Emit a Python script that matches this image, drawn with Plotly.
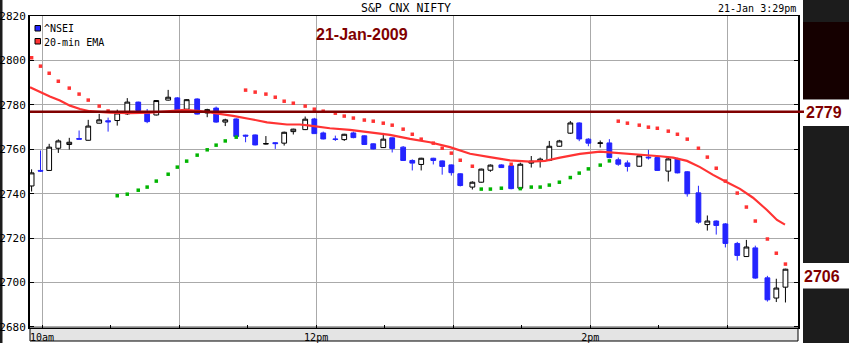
import plotly.graph_objects as go

# ---------------- data ----------------
# candle times: minutes after midnight, 21-Jan-2009
candle_min = [595.4, 599.3, 603.1, 607.1, 611.9, 616.2, 620.2, 625.0, 628.9, 632.9,
              637.3, 642.1, 646.0, 650.0, 655.2, 659.2, 663.3, 667.9, 672.3, 676.2,
              680.2, 685.0, 689.1, 693.3, 698.0, 702.1, 706.0, 710.0, 715.2, 719.2,
              723.1, 728.4, 732.3, 736.3, 741.1, 745.0, 749.4, 753.3, 758.1, 762.1,
              766.0, 771.3, 775.2, 779.2, 783.1, 788.4, 792.3, 796.3, 801.1, 805.4,
              809.4, 814.2, 818.1, 822.1, 826.5, 831.3, 835.2, 839.2, 844.4, 848.4,
              852.3, 856.3, 861.5, 865.5, 869.4, 874.2, 878.2, 882.5, 887.4, 891.3,
              895.2, 899.2, 904.4, 908.4, 912.3, 917.6, 921.5, 925.5]
open_ = [2743.5, 2750.5, 2750.5, 2760.5, 2762.2, 2764.9, 2764.1, 2771.8, 2772.9, 2773.0,
         2776.0, 2781.3, 2776.8, 2775.5, 2782.2, 2783.2, 2778.1, 2782.7, 2776.4, 2778.6,
         2772.3, 2773.7, 2766.4, 2766.5, 2762.4, 2763.0, 2762.8, 2768.0, 2768.9, 2773.7,
         2767.4, 2764.7, 2764.4, 2767.4, 2766.1, 2762.5, 2760.8, 2765.2, 2761.0, 2755.0,
         2753.2, 2756.0, 2754.8, 2753.0, 2749.0, 2743.0, 2745.2, 2750.6, 2753.0, 2752.6,
         2742.5, 2753.8, 2754.7, 2755.0, 2761.4, 2767.3, 2771.9, 2764.6, 2762.7, 2762.9,
         2755.3, 2753.9, 2752.4, 2756.5, 2756.3, 2750.2, 2755.7, 2749.9, 2740.4, 2726.1,
         2727.7, 2726.4, 2717.6, 2711.7, 2715.6, 2702.1, 2693.0, 2697.9]
high = [2751.0, 2759.5, 2762.5, 2764.5, 2765.2, 2768.5, 2773.3, 2776.0, 2774.3, 2777.9,
        2783.1, 2781.5, 2778.2, 2782.2, 2786.8, 2783.6, 2782.6, 2783.0, 2778.3, 2779.3,
        2773.8, 2774.0, 2766.6, 2766.7, 2766.0, 2763.2, 2768.0, 2769.3, 2774.8, 2774.2,
        2768.0, 2766.2, 2767.0, 2768.0, 2766.3, 2762.7, 2767.4, 2765.4, 2761.5, 2755.5,
        2756.2, 2756.2, 2755.0, 2753.2, 2749.2, 2745.6, 2751.3, 2753.2, 2753.3, 2752.8,
        2754.0, 2757.0, 2756.3, 2763.8, 2764.3, 2772.8, 2772.2, 2765.0, 2764.0, 2764.6,
        2756.3, 2755.0, 2757.8, 2759.8, 2756.7, 2756.5, 2756.2, 2750.2, 2743.6, 2730.2,
        2728.0, 2726.8, 2718.3, 2719.2, 2716.6, 2703.0, 2701.7, 2706.2]
low = [2741.0, 2749.8, 2750.3, 2758.4, 2759.9, 2764.5, 2764.0, 2771.7, 2768.0, 2770.7,
       2775.5, 2777.3, 2771.8, 2775.3, 2782.0, 2777.6, 2777.5, 2775.7, 2774.5, 2772.0,
       2770.5, 2765.5, 2763.2, 2761.8, 2762.2, 2760.2, 2761.7, 2766.7, 2768.7, 2767.0,
       2764.5, 2763.8, 2763.8, 2765.0, 2762.0, 2760.0, 2760.6, 2758.6, 2754.8, 2750.5,
       2750.5, 2753.2, 2748.6, 2748.2, 2743.3, 2741.9, 2745.0, 2749.9, 2751.6, 2742.0,
       2742.3, 2751.8, 2751.8, 2754.7, 2761.2, 2767.0, 2763.7, 2761.4, 2760.8, 2756.0,
       2752.6, 2750.0, 2752.2, 2755.4, 2750.3, 2745.5, 2749.2, 2738.7, 2726.5, 2723.4,
       2721.6, 2715.8, 2709.9, 2711.5, 2701.7, 2691.4, 2691.2, 2691.0]
close = [2749.4, 2750.2, 2761.0, 2763.8, 2763.2, 2764.6, 2770.5, 2773.3, 2772.4, 2776.4,
         2781.3, 2777.5, 2772.5, 2782.0, 2783.5, 2777.8, 2782.4, 2775.9, 2777.9, 2772.3,
         2773.3, 2765.8, 2766.0, 2762.0, 2762.6, 2762.6, 2767.7, 2769.1, 2773.6, 2767.1,
         2764.7, 2764.5, 2766.8, 2765.3, 2762.2, 2760.2, 2764.6, 2760.4, 2755.0, 2753.8,
         2756.0, 2755.0, 2752.3, 2749.5, 2743.7, 2745.2, 2751.1, 2752.9, 2751.8, 2742.3,
         2753.3, 2754.7, 2755.6, 2761.4, 2763.8, 2771.9, 2764.7, 2762.8, 2762.9, 2756.3,
         2753.3, 2752.3, 2757.1, 2756.2, 2750.5, 2755.7, 2749.4, 2740.0, 2727.2, 2727.7,
         2725.7, 2717.6, 2712.2, 2716.0, 2702.0, 2692.2, 2697.5, 2706.0]

# parabolic SAR, one value per candle
sar = [2801.3, 2797.5, 2794.3, 2790.7, 2787.6, 2784.9, 2782.2, 2779.5, 2777.3, 2739.1,
       2739.8, 2741.6, 2743.0, 2745.7, 2748.8, 2752.0, 2754.7, 2757.4, 2759.8, 2761.9,
       2763.8, 2765.5, 2786.7, 2785.8, 2784.9, 2783.5, 2781.7, 2780.8, 2779.5, 2778.1,
       2777.2, 2776.3, 2775.0, 2774.1, 2773.2, 2772.7, 2771.8, 2770.9, 2769.1, 2766.8,
       2764.6, 2762.8, 2760.5, 2758.3, 2755.1, 2752.4, 2742.1, 2742.1, 2742.5, 2753.3,
       2742.3, 2743.0, 2743.0, 2743.9, 2745.2, 2747.3, 2749.3, 2751.2, 2752.9, 2754.8,
       2772.7, 2771.8, 2770.9, 2770.0, 2769.5, 2768.2, 2766.8, 2764.6, 2760.5, 2756.5,
       2751.5, 2745.7, 2740.3, 2734.0, 2727.7, 2719.6, 2713.2, 2708.3]

# 20-min EMA
ema_min = [594.7, 599.0, 603.4, 607.8, 612.2, 616.6, 620.9, 629.7, 638.5, 647.2,
           656.0, 662.5, 669.1, 676.6, 683.6, 691.0, 698.5, 707.2, 712.9, 717.3,
           726.0, 734.8, 743.6, 752.3, 761.1, 769.8, 778.6, 787.4, 796.1, 804.9,
           813.6, 820.2, 826.8, 835.5, 844.3, 853.1, 861.8, 870.6, 876.3, 882.4,
           888.1, 893.8, 899.9, 905.6, 911.3, 917.4, 921.8, 925.3]
ema = [2788.0, 2785.8, 2783.8, 2782.0, 2779.7, 2778.2, 2777.2, 2776.5, 2776.3, 2776.5,
       2777.2, 2777.8, 2777.3, 2776.2, 2775.1, 2773.7, 2772.2, 2771.2, 2771.2, 2770.7,
       2769.5, 2768.8, 2767.7, 2766.5, 2764.7, 2763.2, 2761.0, 2758.0, 2756.5, 2755.0,
       2754.5, 2754.8, 2756.3, 2758.0, 2759.0, 2758.4, 2757.5, 2756.9, 2756.3, 2754.8,
       2752.0, 2748.5, 2745.2, 2742.2, 2738.2, 2732.7, 2728.2, 2726.1]

ref_line_level = 2777
ref_label = "2779"
last_label = "2706"

y_ticks = [2680, 2700, 2720, 2740, 2760, 2780, 2800, 2820]
x_tick_min = [600, 660, 720, 780, 840, 900]
x_tick_text = ["10am", "", "12pm", "", "2pm", ""]
x_minor_min = [630, 690, 750, 810, 870]

# ---------------- style ----------------
W, H = 849, 343
L, R, T, B = 30, 51, 16, 15
PW, PH = W - L - R, H - T - B
BLUE = "#2424ff"
RED = "#ff3333"
GREEN = "#00b400"
MAROON = "#800000"
MONO = "DejaVu Sans Mono"


def px_x(x):
    return (x - L) / PW


def px_y(y):
    return (H - B - y) / PH


fig = go.Figure()

fig.add_trace(go.Candlestick(
    x=candle_min, open=open_, high=high, low=low, close=close,
    increasing=dict(line=dict(color="black", width=1), fillcolor="white"),
    decreasing=dict(line=dict(color=BLUE, width=1), fillcolor=BLUE),
    whiskerwidth=0, hoverinfo="skip", name="^NSEI",
))

fig.add_trace(go.Scatter(
    x=ema_min, y=ema, mode="lines", line=dict(color=RED, width=2.2),
    hoverinfo="skip", name="20-min EMA",
))

sar_colors = [RED if s > h else GREEN for s, h in zip(sar, high)]
fig.add_trace(go.Scatter(
    x=candle_min, y=sar, mode="markers",
    marker=dict(symbol="square", size=3.5, color=sar_colors, line=dict(width=0)),
    hoverinfo="skip", name="SAR",
))

shapes = []
# left dark strip
shapes.append(dict(type="rect", xref="paper", yref="paper", x0=px_x(-2), x1=px_x(2.5),
                   y0=px_y(H + 2), y1=px_y(-2), fillcolor="#1c1c1c", line=dict(width=0), layer="below"))
# bottom grey band
shapes.append(dict(type="rect", xref="paper", yref="paper", x0=0, x1=1,
                   y0=px_y(341), y1=0, fillcolor="#e4e4e4", line=dict(color="black", width=1),
                   layer="below"))
# right panel
shapes.append(dict(type="rect", xref="paper", yref="paper", x0=px_x(803), x1=px_x(W + 2),
                   y0=px_y(H + 2), y1=px_y(-2), fillcolor="#1c1c1c", line=dict(width=0), layer="below"))
shapes.append(dict(type="rect", xref="paper", yref="paper", x0=px_x(803), x1=px_x(W + 2),
                   y0=px_y(99.5), y1=px_y(22), fillcolor="#150000", line=dict(width=0), layer="below"))
shapes.append(dict(type="rect", xref="paper", yref="paper", x0=px_x(803), x1=px_x(W + 2),
                   y0=px_y(126), y1=px_y(99.5), fillcolor="white", line=dict(width=0), layer="below"))
shapes.append(dict(type="rect", xref="paper", yref="paper", x0=px_x(803), x1=px_x(W + 2),
                   y0=px_y(288.5), y1=px_y(263), fillcolor="white", line=dict(width=0), layer="below"))
# reference level line
shapes.append(dict(type="line", xref="paper", yref="y", x0=0, x1=px_x(804),
                   y0=ref_line_level, y1=ref_line_level, line=dict(color=MAROON, width=2.5),
                   layer="above"))
# legend squares
shapes.append(dict(type="rect", xref="paper", yref="paper", x0=px_x(35), x1=px_x(40.5),
                   y0=px_y(31), y1=px_y(25.5), fillcolor=BLUE, line=dict(color="black", width=1)))
shapes.append(dict(type="rect", xref="paper", yref="paper", x0=px_x(35), x1=px_x(40.5),
                   y0=px_y(44), y1=px_y(38.5), fillcolor=RED, line=dict(color="black", width=1)))

annotations = [
    dict(text="S&P CNX NIFTY", x=px_x(406), y=px_y(8), xanchor="center", yanchor="middle",
         font=dict(family=MONO, size=11.5, color="black")),
    dict(text="21-Jan 3:29pm", x=px_x(797), y=px_y(8), xanchor="right", yanchor="middle",
         font=dict(family=MONO, size=10, color="black")),
    dict(text="<b>21-Jan-2009</b>", x=px_x(315), y=px_y(34), xanchor="left", yanchor="middle",
         font=dict(family="Liberation Sans", size=16, color=MAROON)),
    dict(text="^NSEI", x=px_x(42.5), y=px_y(29), xanchor="left", yanchor="middle",
         font=dict(family=MONO, size=10, color="black")),
    dict(text="20-min EMA", x=px_x(42.5), y=px_y(42.5), xanchor="left", yanchor="middle",
         font=dict(family=MONO, size=10, color="black")),
    dict(text="<b>" + ref_label + "</b>", x=px_x(804.5), y=px_y(112.5), xanchor="left",
         yanchor="middle", font=dict(family="Liberation Sans", size=16, color=MAROON)),
    dict(text="<b>" + last_label + "</b>", x=px_x(803), y=px_y(276), xanchor="left",
         yanchor="middle", font=dict(family="Liberation Sans", size=16, color=MAROON)),
]
for a in annotations:
    a.update(xref="paper", yref="paper", showarrow=False, borderpad=0)

fig.update_layout(
    width=W, height=H,
    margin=dict(l=L, r=R, t=T, b=B, pad=0, autoexpand=False),
    paper_bgcolor="white", plot_bgcolor="white",
    showlegend=False, boxgap=0.45, boxgroupgap=0,
    shapes=shapes, annotations=annotations,
    xaxis=dict(range=[594.7, 931.0], tickmode="array", tickvals=x_tick_min, ticktext=x_tick_text,
               automargin=False,
               showgrid=True, gridcolor="#aaaaaa", gridwidth=1, ticks="inside", ticklen=3,
               tickcolor="black", showline=True, linecolor="black", linewidth=1, mirror=True,
               zeroline=False, rangeslider=dict(visible=False),
               tickfont=dict(family=MONO, size=10, color="black"),
               minor=dict(tickvals=x_minor_min, ticks="inside", ticklen=3, tickcolor="black",
                          showgrid=False)),
    yaxis=dict(range=[2679.5, 2820.1], tickmode="array", tickvals=y_ticks, automargin=False,
               showgrid=True, gridcolor="#aaaaaa", gridwidth=1, ticks="inside", ticklen=4,
               tickcolor="black", showline=True, linecolor="black", linewidth=2, mirror="ticks",
               zeroline=False, tickfont=dict(family=MONO, size=11, color="black")),
)

fig.write_html("out.html")
